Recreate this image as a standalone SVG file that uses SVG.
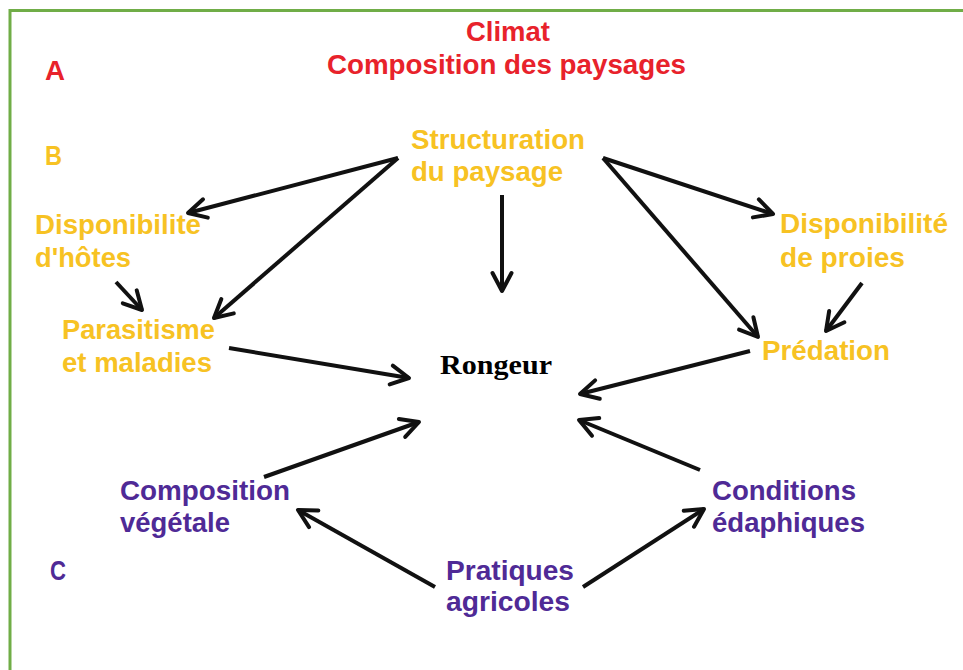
<svg xmlns="http://www.w3.org/2000/svg" width="963" height="670" viewBox="0 0 963 670">
<defs>
<style>
.t{font-family:"Liberation Sans",Arial,sans-serif;font-weight:bold;font-size:27px;}
.red{fill:#e8222b;}
.yel{fill:#f7c223;}
.pur{fill:#4f2a96;}
.rg{font-family:"Liberation Serif","Times New Roman",serif;font-weight:bold;font-size:27px;fill:#000;}
.c line{stroke:#111;stroke-width:4;marker-end:url(#ah);}
</style>
<marker id="ah" markerUnits="userSpaceOnUse" markerWidth="40" markerHeight="40" refX="0" refY="0" viewBox="-20 -20 40 40" orient="auto" overflow="visible">
<path d="M-18,-9.5 L0,0 L-18,9.5" fill="none" stroke="#111" stroke-width="4" stroke-linecap="round" stroke-linejoin="round"/>
</marker>
</defs>
<rect width="963" height="670" fill="#fff"/>
<g id="frame" stroke="#70ad47" stroke-width="3" fill="none">
<path d="M10,670 V10.5 H963"/>
</g>
<g id="labels">
<text class="t red" x="45" y="80" textLength="20" lengthAdjust="spacingAndGlyphs">A</text>
<text class="t yel" x="45" y="165" textLength="17" lengthAdjust="spacingAndGlyphs">B</text>
<text class="t pur" x="50" y="580" textLength="16" lengthAdjust="spacingAndGlyphs">C</text>
</g>
<g id="climat">
<text class="t red" x="466" y="41" textLength="84" lengthAdjust="spacingAndGlyphs">Climat</text>
<text class="t red" x="327" y="74" textLength="359" lengthAdjust="spacingAndGlyphs">Composition des paysages</text>
</g>
<g id="structuration">
<text class="t yel" x="411" y="149" textLength="174" lengthAdjust="spacingAndGlyphs">Structuration</text>
<text class="t yel" x="411" y="181" textLength="152" lengthAdjust="spacingAndGlyphs">du paysage</text>
</g>
<g id="hotes">
<text class="t yel" x="35" y="234" textLength="166" lengthAdjust="spacingAndGlyphs">Disponibilite</text>
<text class="t yel" x="35" y="267" textLength="96" lengthAdjust="spacingAndGlyphs">d'hôtes</text>
</g>
<g id="parasitisme">
<text class="t yel" x="62" y="339" textLength="153" lengthAdjust="spacingAndGlyphs">Parasitisme</text>
<text class="t yel" x="62" y="372" textLength="150" lengthAdjust="spacingAndGlyphs">et maladies</text>
</g>
<g id="proies">
<text class="t yel" x="780" y="233" textLength="168" lengthAdjust="spacingAndGlyphs">Disponibilité</text>
<text class="t yel" x="780" y="267" textLength="125" lengthAdjust="spacingAndGlyphs">de proies</text>
</g>
<g id="predation">
<text class="t yel" x="762" y="360" textLength="128" lengthAdjust="spacingAndGlyphs">Prédation</text>
</g>
<g id="rongeur">
<text class="rg" x="440" y="374" textLength="112" lengthAdjust="spacingAndGlyphs">Rongeur</text>
</g>
<g id="vegetale">
<text class="t pur" x="120" y="500" textLength="170" lengthAdjust="spacingAndGlyphs">Composition</text>
<text class="t pur" x="120" y="532" textLength="110" lengthAdjust="spacingAndGlyphs">végétale</text>
</g>
<g id="edaphiques">
<text class="t pur" x="712" y="500" textLength="144" lengthAdjust="spacingAndGlyphs">Conditions</text>
<text class="t pur" x="712" y="532" textLength="153" lengthAdjust="spacingAndGlyphs">édaphiques</text>
</g>
<g id="pratiques">
<text class="t pur" x="446" y="580" textLength="128" lengthAdjust="spacingAndGlyphs">Pratiques</text>
<text class="t pur" x="446" y="611" textLength="124" lengthAdjust="spacingAndGlyphs">agricoles</text>
</g>
<g id="connectors" class="c">
<line x1="398" y1="158" x2="188" y2="213"/>
<line x1="398" y1="158" x2="214" y2="318"/>
<line x1="502" y1="195" x2="502" y2="291"/>
<line x1="603" y1="158" x2="773" y2="214"/>
<line x1="603" y1="158" x2="758" y2="337"/>
<line x1="862" y1="283" x2="826" y2="331"/>
<line x1="116" y1="282" x2="142" y2="310"/>
<line x1="229" y1="348" x2="409" y2="378"/>
<line x1="750" y1="351" x2="580" y2="394"/>
<line x1="264" y1="477" x2="419" y2="422"/>
<line x1="700" y1="470" x2="579" y2="420"/>
<line x1="435" y1="587" x2="298" y2="510"/>
<line x1="583" y1="587" x2="704" y2="509"/>
</g>
</svg>
